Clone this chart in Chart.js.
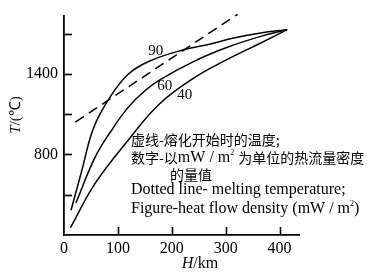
<!DOCTYPE html>
<html lang="zh">
  <head>
    <meta charset="UTF-8" />
    <title>T vs H</title>
    <script src="https://cdn.jsdelivr.net/npm/chart.js"></script>
    <style>
      body { margin: 0; background: #fff; }
      #wrap { width: 383px; height: 274px; }
    </style>
  </head>
  <body>
    <div id="wrap"><canvas id="chart" width="383" height="274"></canvas></div>

    <script>
      // depth H (km) and temperature T (°C), one pair per curve
      const h90 = [13, 33, 55, 85, 119, 158, 217, 272, 315, 365, 414];
      const t90 = [384, 680, 1000, 1225, 1398, 1495, 1575, 1624, 1668, 1705, 1730];
      const h60 = [22, 58, 88, 119, 150, 180, 242, 303, 365, 414];
      const t60 = [438, 782, 979, 1151, 1275, 1361, 1496, 1599, 1680, 1730];
      const h40 = [12, 58, 119, 177, 242, 303, 365, 414];
      const t40 = [254, 586, 906, 1176, 1373, 1509, 1631, 1730];
      // dashed melting line
      const hMelt = [21, 322];
      const tMelt = [1041, 1845];

      const curveNames = ["90", "60", "40"];
      const xTicks = [0, 100, 200, 300, 400];
      const yTicks = [500, 800, 1100, 1400, 1700];
      const yLabelled = [800, 1400];

      const serif = '"Liberation Serif", "Times New Roman", serif';
      const cjk = '"Noto Sans CJK SC", sans-serif';

      function pts(hs, ts) {
        return hs.map((h, i) => ({ x: h, y: ts[i] }));
      }

      function line(data, dash) {
        return {
          data: data,
          borderColor: "#000",
          borderWidth: 1.5,
          borderDash: dash || [],
          pointRadius: 0,
          fill: false,
          tension: 0.4,
          clip: false,
        };
      }

      // draws a run of pieces [text, font, dy] left to right
      function run(ctx, x, y, pieces) {
        pieces.forEach((p) => {
          ctx.font = p[1];
          ctx.fillText(p[0], x, y + (p[2] || 0));
          x += ctx.measureText(p[0]).width;
        });
      }

      const extras = {
        id: "extras",
        afterDatasetsDraw(chart) {
          const { ctx, chartArea: a, scales } = chart;
          const x = scales.x, y = scales.y;
          ctx.save();
          ctx.strokeStyle = "#000";
          ctx.lineWidth = 1.6;
          // inward tick marks
          yTicks.forEach((v) => {
            const py = Math.round(y.getPixelForValue(v)) + 0.5;
            ctx.beginPath();
            ctx.moveTo(a.left, py);
            ctx.lineTo(a.left + 8, py);
            ctx.stroke();
          });
          xTicks.slice(1).forEach((v) => {
            const px = Math.round(x.getPixelForValue(v)) + 0.5;
            ctx.beginPath();
            ctx.moveTo(px, a.bottom);
            ctx.lineTo(px, a.bottom - 8);
            ctx.stroke();
          });

          ctx.fillStyle = "#000";
          ctx.textBaseline = "middle";

          // curve labels
          ctx.textAlign = "center";
          ctx.font = "15px " + serif;
          const spots = [[170, 1568], [187, 1309], [224, 1243]];
          curveNames.forEach((n, i) => {
            ctx.fillText(n, x.getPixelForValue(spots[i][0]), y.getPixelForValue(spots[i][1]));
          });

          // notes
          ctx.textAlign = "left";
          const c = "14px " + cjk;
          const s = "16px " + serif;
          const sup = "8px " + serif;
          run(ctx, 131, 140, [["虚线-熔化开始时的温度;", c]]);
          run(ctx, 131, 158, [["数字-以", c], ["mW / m", s], ["2", sup, -5], [" ", s], ["为单位的热流量密度", c]]);
          run(ctx, 170, 175, [["的量值", c]]);
          run(ctx, 131, 190, [["Dotted line- melting temperature;", s]]);
          run(ctx, 131, 209, [["Figure-heat flow density (mW / m", s], ["2", sup, -5], [")", s]]);

          // axis titles
          ctx.font = "italic 16px " + serif;
          const hw = ctx.measureText("H").width;
          ctx.font = "16px " + serif;
          const kw = ctx.measureText("/km").width;
          run(ctx, 200 - (hw + kw) / 2, 264, [["H", "italic 16px " + serif], ["/km", "16px " + serif]]);

          ctx.translate(16, 115);
          ctx.rotate(-Math.PI / 2);
          ctx.font = "italic 15px " + serif;
          const tw = ctx.measureText("T").width;
          ctx.font = "15px " + serif;
          const rw = ctx.measureText("/(℃)").width;
          run(ctx, -(tw + rw) / 2, 0, [["T", "italic 15px " + serif], ["/(℃)", "15px " + serif]]);
          ctx.restore();
        },
      };

      new Chart(document.getElementById("chart"), {
        type: "line",
        data: {
          datasets: [
            line(pts(h90, t90)),
            line(pts(h60, t60)),
            line(pts(h40, t40)),
            line(pts(hMelt, tMelt), [10, 6]),
          ],
        },
        options: {
          responsive: false,
          animation: false,
          layout: { padding: { top: 14, right: 84, left: 0, bottom: 0 } },
          plugins: { legend: { display: false }, tooltip: { enabled: false } },
          scales: {
            x: {
              type: "linear",
              min: 0,
              max: 436,
              grid: { display: false, drawTicks: false },
              border: { display: true, color: "#000", width: 1.8 },
              afterBuildTicks: (sc) => { sc.ticks = xTicks.map((v) => ({ value: v })); },
              afterFit: (sc) => { sc.height = 39; },
              ticks: {
                color: "#000",
                padding: 4,
                maxRotation: 0,
                font: { family: serif, size: 16 },
              },
            },
            y: {
              type: "linear",
              min: 200,
              max: 1835,
              grid: { display: false, drawTicks: false },
              border: { display: true, color: "#000", width: 1.8 },
              afterBuildTicks: (sc) => { sc.ticks = yTicks.map((v) => ({ value: v })); },
              afterFit: (sc) => { sc.width = 64; },
              ticks: {
                color: "#000",
                padding: 6,
                font: { family: serif, size: 16 },
                callback: (v) => (yLabelled.includes(v) ? String(v) : ""),
              },
            },
          },
        },
        plugins: [extras],
      });
    </script>
  </body>
</html>
